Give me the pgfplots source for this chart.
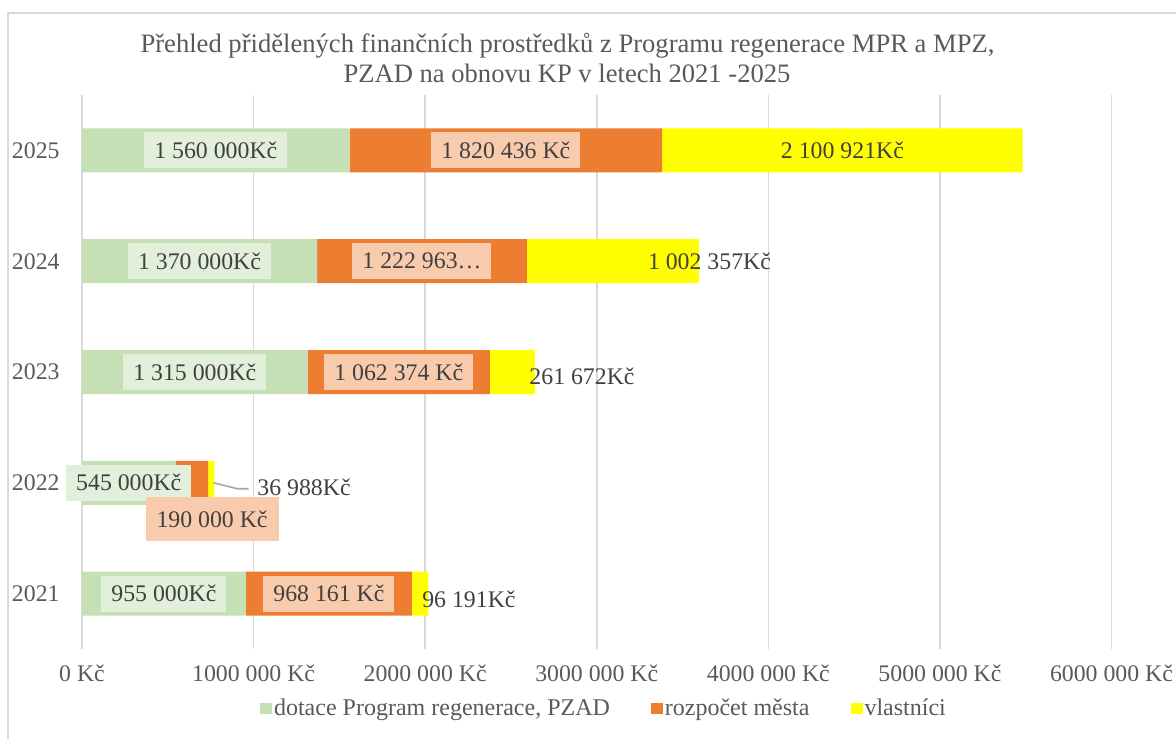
\documentclass[border=0pt]{standalone}
\usepackage{pgfplots}
\usepackage{pgfplotstable}
\pgfplotsset{compat=1.18}
\usepackage{fontspec}
\setmainfont{Liberation Serif}
\definecolor{cg}{HTML}{C5E0B4}
\definecolor{co}{HTML}{ED7D31}
\definecolor{cy}{HTML}{FFFF00}
\definecolor{lg}{HTML}{E2EFDA}
\definecolor{lo}{HTML}{F8CBAD}
\definecolor{txt}{HTML}{595959}
\definecolor{dlab}{HTML}{404040}
\definecolor{gridc}{HTML}{D9D9D9}
\definecolor{leader}{HTML}{A6A6A6}

% data: y = 0..4 for 2021..2025
\pgfplotstableread{
y g o v
0 955000 968161 96191
1 545000 190000 36988
2 1315000 1062374 261672
3 1370000 1222963 1002357
4 1560000 1820436 2100921
}\data

% label positions (x in Kc, y in category units) and texts
\pgfplotstableread[col sep=comma,row sep=\\]{
lx,ly,t\\
477500,0,955 000Kč\\
272500,1,545 000Kč\\
657500,2,1 315 000Kč\\
685000,3,1 370 000Kč\\
780000,4,1 560 000Kč\\
}\glab
\pgfplotstableread[col sep=comma,row sep=\\]{
lx,ly,t\\
1439080,0,968 161 Kč\\
1846187,2,1 062 374 Kč\\
1981481,3,1 222 963…\\
2470218,4,1 820 436 Kč\\
}\olab
\pgfplotstableread[col sep=comma,row sep=\\]{
lx,ly,t\\
758000,0.67,190 000 Kč\\
}\olabb
\pgfplotstableread[col sep=comma,row sep=\\]{
lx,ly,t\\
2255000,-0.054,96 191Kč\\
1294000,0.955,36 988Kč\\
2914000,1.96,261 672Kč\\
3657000,3,1 002 357Kč\\
4432000,4,2 100 921Kč\\
}\ylab

\newcommand{\lblfont}{\fontsize{11.9}{14}\selectfont}

\begin{document}
\begin{tikzpicture}[x=1pt,y=1pt]
\useasboundingbox (0,0) rectangle (588,369);
\draw[gridc, line width=0.8pt] (4,-20) -- (4,362.5) -- (610,362.5);
\node[anchor=base, text=txt, font=\fontsize{13.3}{16}\selectfont, inner sep=0pt] at (283.75,342.5) {Přehled přidělených finančních prostředků z Programu regenerace MPR a MPZ,};
\node[anchor=base, text=txt, font=\fontsize{13.3}{16}\selectfont, inner sep=0pt] at (283.5,327.5) {PZAD na obnovu KP v letech 2021 -2025};

\begin{axis}[
  at={(41pt,44.5pt)}, anchor=south west,
  scale only axis, width=514.75pt, height=277pt,
  xbar stacked, bar width=22pt,
  xmin=0, xmax=6000000, ymin=-0.5, ymax=4.5,
  axis line style={draw=none},
  major tick length=0pt,
  xmajorgrids, major grid style={gridc, line width=0.8pt},
  scaled x ticks=false,
  xtick={0,1000000,2000000,3000000,4000000,5000000,6000000},
  xticklabels={0 Kč,1000 000 Kč,2000 000 Kč,3000 000 Kč,4000 000 Kč,5000 000 Kč,6000 000 Kč},
  ytick={0,1,2,3,4},
  yticklabels={2021,2022,2023,2024,2025},
  xticklabel style={anchor=base, inner sep=0pt, yshift=-16pt},
  yticklabel style={anchor=east, inner sep=0pt, xshift=-11pt},
  every tick label/.append style={font=\lblfont, text=txt},
  /pgf/number format/assume math mode=true,
  legend columns=-1,
  legend style={at={(0.507,-0.1083)}, anchor=center, draw=none, fill=none,
    font=\fontsize{12}{14}\selectfont, text=txt,
    /tikz/every even column/.append style={column sep=19.5pt},
    nodes={inner xsep=1pt}},
  legend image code/.code={\fill[#1,draw=none] (0pt,-2.6pt) rectangle (6pt,3.2pt);},
]
\addplot[fill=cg, draw=none] table[x=g, y=y] {\data};
\addplot[fill=co, draw=none] table[x=o, y=y] {\data};
\addplot[fill=cy, draw=none] table[x=v, y=y] {\data};
\legend{{dotace Program regenerace, PZAD}, rozpočet města, vlastníci}
\end{axis}

\begin{axis}[
  at={(41pt,44.5pt)}, anchor=south west,
  scale only axis, width=514.75pt, height=277pt,
  xmin=0, xmax=6000000, ymin=-0.5, ymax=4.5,
  hide axis, clip=false,
  nodes near coords, point meta=explicit symbolic,
  nodes near coords align=center,
]
\draw[leader, line width=0.8pt] (axis cs:766300,1.0) -- (axis cs:906300,0.946) -- (axis cs:970400,0.946);
\addplot[draw=none, mark=none, nodes near coords style={anchor=center, fill=lg, text=dlab, font=\lblfont, inner xsep=5pt, inner ysep=0pt, minimum height=18pt}] table[x=lx, y=ly, meta=t] {\glab};
\addplot[draw=none, mark=none, nodes near coords style={anchor=center, fill=lo, text=dlab, font=\lblfont, inner xsep=5pt, inner ysep=0pt, minimum height=18pt}] table[x=lx, y=ly, meta=t] {\olab};
\addplot[draw=none, mark=none, nodes near coords style={anchor=center, fill=lo, text=dlab, font=\lblfont, inner xsep=5.5pt, inner ysep=0pt, minimum height=22pt}] table[x=lx, y=ly, meta=t] {\olabb};
\addplot[draw=none, mark=none, nodes near coords style={anchor=center, text=dlab, font=\lblfont, inner sep=0pt}] table[x=lx, y=ly, meta=t] {\ylab};
\end{axis}
\end{tikzpicture}
\end{document}
